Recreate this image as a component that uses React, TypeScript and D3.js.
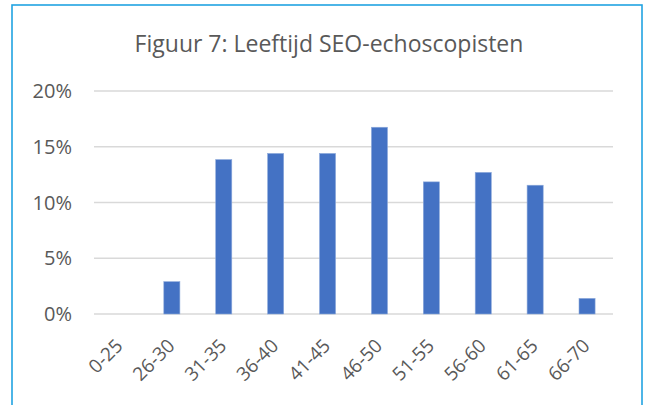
import React from "react";
import * as d3 from "d3";

const categories = ["0-25", "26-30", "31-35", "36-40", "41-45", "46-50", "51-55", "56-60", "61-65", "66-70"];
const values = [0, 2.9, 13.85, 14.4, 14.4, 16.75, 11.85, 12.7, 11.55, 1.4];
const yTicks = [0, 5, 10, 15, 20];
const title = "Figuur 7: Leeftijd SEO-echoscopisten";

const W = 649;
const H = 405;
const plot = { left: 94, right: 613, top: 91, bottom: 314 };
const font = "'Open Sans', 'Noto Sans', sans-serif";
const textColor = "#595959";

export default function App() {
  const x = d3
    .scaleBand<string>()
    .domain(categories)
    .range([plot.left, plot.right])
    .paddingInner(0.69)
    .paddingOuter(0.345);
  const y = d3.scaleLinear().domain([0, 20]).range([plot.bottom, plot.top]);

  return (
    <svg
      width={W}
      height={H}
      style={{ position: "absolute", left: 0, top: 0, background: "#fff" }}
    >
      <rect x={0} y={0} width={W} height={H} fill="#fff" />
      <rect x={12} y={5} width={630} height={420} fill="#fff" stroke="#21a3e2" strokeWidth={1.6} />
      <text
        x={329}
        y={52}
        textAnchor="middle"
        fontFamily={font}
        fontSize={23}
        fill={textColor}
      >
        {title}
      </text>
      {yTicks.map((t) => (
        <g key={t}>
          <line
            x1={plot.left}
            x2={plot.right}
            y1={y(t)}
            y2={y(t)}
            stroke="#d9d9d9"
            strokeWidth={1.4}
          />
          <text
            x={72}
            y={y(t)}
            dy="0.36em"
            textAnchor="end"
            fontFamily={font}
            fontSize={20}
            fill={textColor}
          >
            {d3.format("d")(t) + "%"}
          </text>
        </g>
      ))}
      {categories.map((c, i) => (
        <rect
          key={c}
          x={x(c)!}
          y={y(values[i])}
          width={x.bandwidth()}
          height={plot.bottom - y(values[i])}
          fill="#4472c4"
          stroke="#8eaadb"
          strokeWidth={values[i] > 0 ? 0.6 : 0}
        />
      ))}
      {categories.map((c) => {
        const cx = x(c)! + x.bandwidth() / 2 + 4;
        const cy = 347;
        return (
          <text
            key={c}
            x={cx}
            y={cy}
            transform={`rotate(-45 ${cx} ${cy})`}
            textAnchor="end"
            fontFamily={font}
            fontSize={19}
            fill={textColor}
          >
            {c}
          </text>
        );
      })}
    </svg>
  );
}
